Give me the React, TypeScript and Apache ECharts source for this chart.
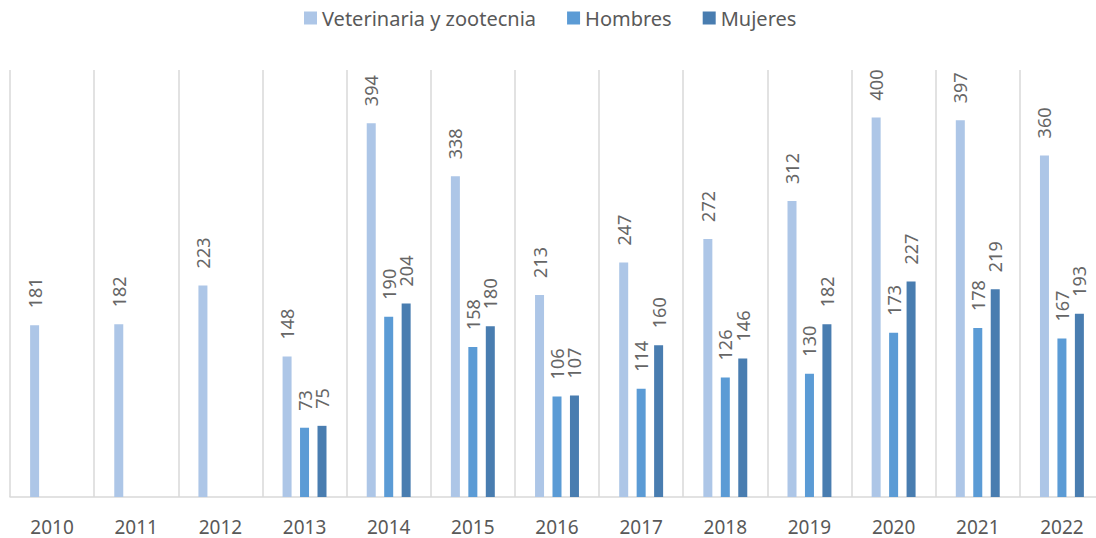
import React, { useEffect, useRef } from "react";
import * as echarts from "echarts";

const years = ["2010", "2011", "2012", "2013", "2014", "2015", "2016", "2017", "2018", "2019", "2020", "2021", "2022"];
const total = [181, 182, 223, 148, 394, 338, 213, 247, 272, 312, 400, 397, 360];
const hombres = [null, null, null, 73, 190, 158, 106, 114, 126, 130, 173, 178, 167];
const mujeres = [null, null, null, 75, 204, 180, 107, 160, 146, 182, 227, 219, 193];

const seriesNames = ["Veterinaria y zootecnia", "Hombres", "Mujeres"];
const colors = ["#ADC6E7", "#5B9BD5", "#497DB0"];

export default function App() {
  const ref = useRef<HTMLDivElement>(null);
  useEffect(() => {
    if (!ref.current) return;
    const chart = echarts.init(ref.current, null, { renderer: "svg" });
    const font = "'Noto Sans', 'Open Sans', sans-serif";
    const label = {
      show: true,
      position: "top",
      rotate: 90,
      align: "left",
      verticalAlign: "middle",
      distance: 17,
      fontSize: 18,
      color: "#666666",
      fontFamily: font,
    };
    const mk = (name: string, data: (number | null)[], color: string) => ({
      name,
      type: "bar",
      data,
      barWidth: 9,
      barGap: "94%",
      itemStyle: { color },
      label,
    });
    chart.setOption({
      animation: false,
      color: colors,
      legend: {
        top: 3,
        left: 299,
        itemWidth: 13,
        itemHeight: 13,
        itemGap: 31,
        icon: "rect",
        textStyle: { fontSize: 20, color: "#595959", fontFamily: font },
        data: seriesNames,
      },
      grid: { left: 10, right: 0, top: 70, bottom: 41, containLabel: false },
      xAxis: {
        type: "category",
        data: years,
        axisTick: { show: false },
        axisLine: { lineStyle: { color: "#D9D9D9", width: 1.5 } },
        splitLine: { show: true, lineStyle: { color: "#D9D9D9", width: 1.5 } },
        axisLabel: { fontSize: 19, color: "#595959", fontFamily: font, margin: 20 },
      },
      yAxis: {
        type: "value",
        min: 0,
        max: 450,
        show: false,
        splitLine: { show: false },
      },
      series: [
        mk(seriesNames[0], total, colors[0]),
        mk(seriesNames[1], hombres, colors[1]),
        mk(seriesNames[2], mujeres, colors[2]),
      ],
    });
    return () => chart.dispose();
  }, []);
  return (
    <div style={{ position: "absolute", left: 0, top: 0, width: 1096, height: 538, overflow: "hidden" }}>
      <div ref={ref} style={{ width: 1104, height: 538 }} />
    </div>
  );
}
